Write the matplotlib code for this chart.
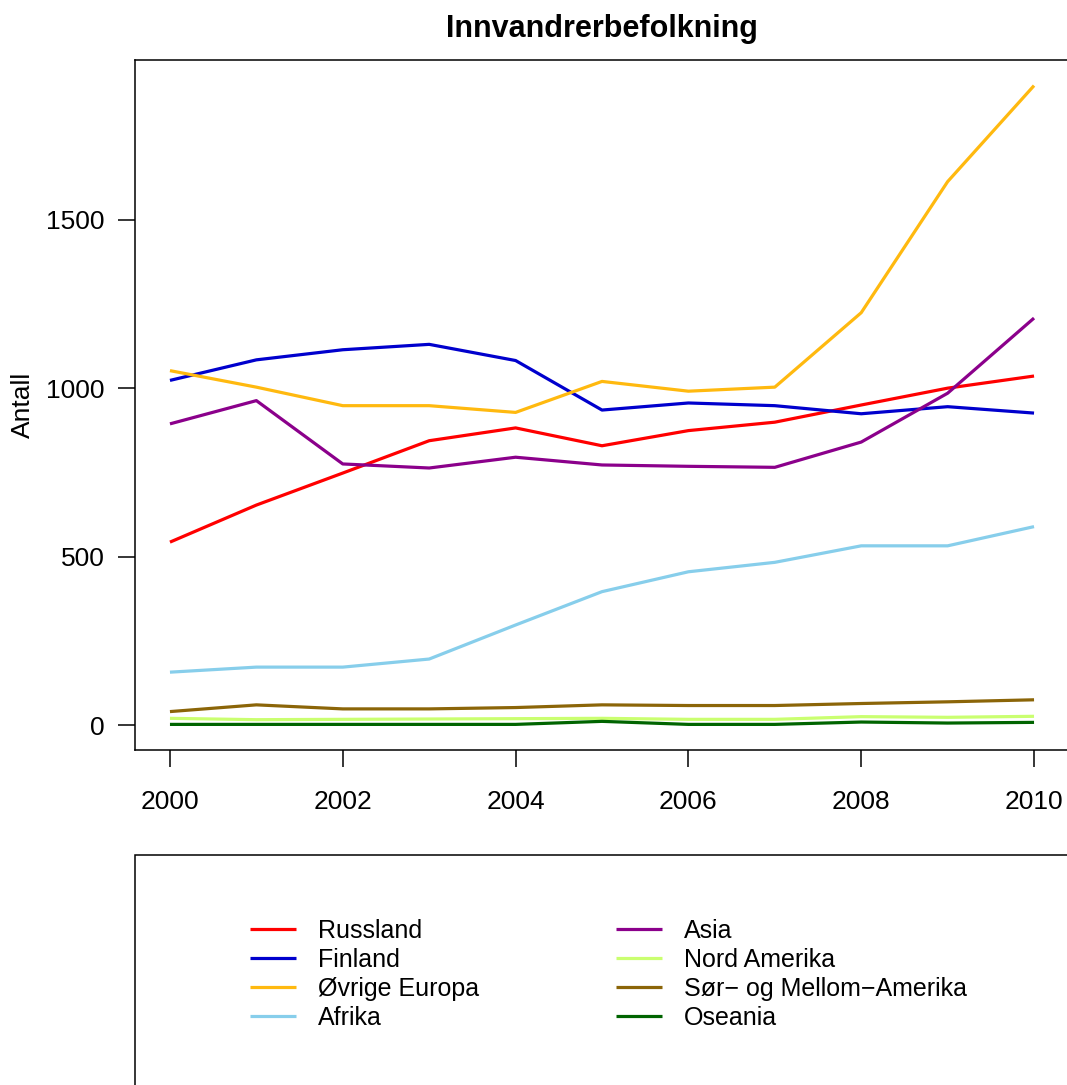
import matplotlib.pyplot as plt
from matplotlib.patches import Rectangle

plt.rcParams['font.family'] = ['Liberation Sans', 'DejaVu Sans']

# data
years = [2000, 2001, 2002, 2003, 2004, 2005, 2006, 2007, 2008, 2009, 2010]

russland = [543, 653, 748, 844, 882, 829, 874, 899, 950, 1000, 1036]
finland = [1023, 1084, 1114, 1130, 1082, 935, 956, 948, 924, 945, 926]
ovrige_europa = [1052, 1003, 948, 948, 928, 1020, 991, 1003, 1224, 1613, 1898]
afrika = [157, 172, 172, 196, 297, 396, 455, 483, 532, 532, 589]
asia = [894, 963, 775, 763, 795, 772, 768, 765, 840, 985, 1208]
nord_amerika = [20, 16, 17, 18, 19, 20, 17, 17, 25, 23, 26]
sor_mellom_amerika = [40, 60, 48, 48, 52, 60, 58, 58, 64, 69, 75]
oseania = [2, 2, 2, 2, 2, 11, 2, 2, 9, 6, 8]

labels = ['Russland', 'Finland', 'Øvrige Europa', 'Afrika',
          'Asia', 'Nord Amerika', 'Sør\u2212 og Mellom\u2212Amerika', 'Oseania']
colors = ['#FF0000', '#0000CD', '#FFB90F', '#87CEEB',
          '#8B008B', '#CAFF70', '#8B6508', '#006400']
series = [russland, finland, ovrige_europa, afrika,
          asia, nord_amerika, sor_mellom_amerika, oseania]

W, H = 1067, 1085
fig = plt.figure(figsize=(W / 100, H / 100), dpi=100)

# axes placed in pixel terms like the R device
left, right, top, bottom = 135.4, 1068.6, 60, 750
ax = fig.add_axes([left / W, (H - bottom) / H, (right - left) / W, (bottom - top) / H])

lines = []
for vals, lab, col in zip(series, labels, colors):
    ln, = ax.plot(years, vals, color=col, lw=2.3, label=lab, solid_capstyle='butt')
    lines.append(ln)

ax.set_xlim(1999.6, 2010.4)
ax.set_ylim(-74, 1974)
ax.set_xticks([2000, 2002, 2004, 2006, 2008, 2010])
ax.set_yticks([0, 500, 1000, 1500])
ax.tick_params(axis='both', labelsize=19, length=12, width=1.1, direction='out')
ax.tick_params(axis='x', pad=16.5)
ax.tick_params(axis='y', pad=10)
for sp in ax.spines.values():
    sp.set_linewidth(1.1)

fig.text(602 / W, 1 - 29 / H, 'Innvandrerbefolkning', ha='center', va='center',
         fontsize=22, fontweight='bold')
fig.text(22.5 / W, 1 - 405 / H, 'Antall', rotation=90, ha='center', va='center', fontsize=19)

# legend box below the plot, running off the page edge
fig.patches.append(Rectangle((left / W, -0.05), 1.2, (H - 855) / H + 0.05,
                             transform=fig.transFigure, fill=False, lw=1.1,
                             edgecolor='black'))

fig.legend(handles=lines, ncol=2, loc='upper left', frameon=False,
           bbox_to_anchor=(250 / W, (H - 919) / H), bbox_transform=fig.transFigure,
           fontsize=18, handlelength=1.85, handletextpad=0.85, columnspacing=5.5,
           labelspacing=0.2, borderpad=0, borderaxespad=0)

fig.savefig('out.png', dpi=100)
